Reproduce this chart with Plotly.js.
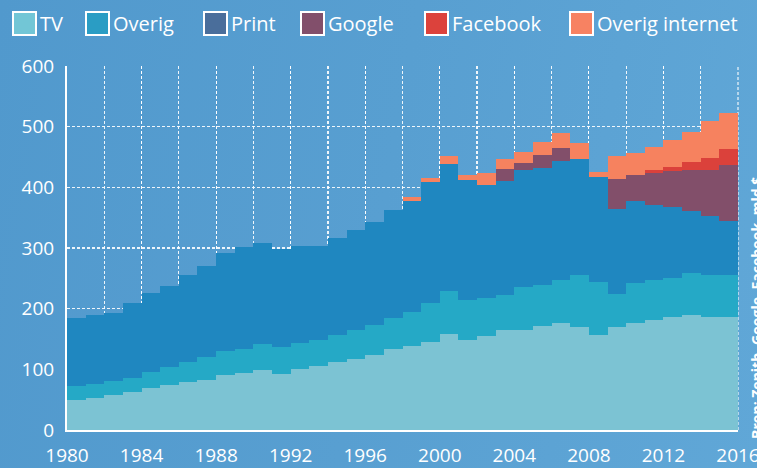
<!DOCTYPE html>
<html>
<head>
<meta charset="utf-8">
<script src="https://cdn.plot.ly/plotly-3.0.1.min.js"></script>
<style>
  html, body { margin: 0; padding: 0; }
  body { width: 757px; height: 468px; overflow: hidden;
         background: linear-gradient(100deg, #5199cd 0%, #589fd1 50%, #60a7d7 100%); }
  #chart { width: 757px; height: 468px; }
</style>
</head>
<body>
<div id="chart"></div>
<script>
// ---- data (billions) ----
const years = [1980,1981,1982,1983,1984,1985,1986,1987,1988,1989,1990,1991,1992,1993,1994,1995,1996,1997,
               1998,1999,2000,2001,2002,2003,2004,2005,2006,2007,2008,2009,2010,2011,2012,2013,2014,2015];
const tv = [50,53,57,63,70,74,79,83,90,94,99,93,101,105,112,117,124,133,
            138,145,158,149,155,165,165,171,176,170,157,169,177,182,186,189,186,186];
const overig = [22,23,23,23,26,30,33,37,40,39,42,43,43,43,45,48,49,52,
                56,65,71,66,63,58,71,68,72,86,87,55,65,65,65,69,69,69];
const print = [112,113,113,124,130,134,144,150,161,169,168,163,160,156,159,165,170,178,
               183,199,210,197,186,187,193,193,195,191,173,140,135,124,116,103,98,89];
const google = [0,0,0,0,0,0,0,0,0,0,0,0,0,0,0,0,0,0,
                0,0,0,0,0,21,11,22,22,0,0,50,44,53,60,68,76,93];
const facebook = [0,0,0,0,0,0,0,0,0,0,0,0,0,0,0,0,0,0,
                  0,0,0,0,0,0,0,0,0,0,0,0,0,5,7,12,19,26];
const overigInternet = [0,0,0,0,0,0,0,0,0,0,0,0,0,0,0,0,0,0,
                        7,7,12,8,20,15,18,21,25,26,8,38,36,38,44,51,61,59];

const xTickLabels = [1980,1984,1988,1992,1996,2000,2004,2008,2012,2016];
const yTickLabels = [0,100,200,300,400,500,600];

const seriesNames = ["TV","Overig","Print","Google","Facebook","Overig internet"];
const seriesData = [tv, overig, print, google, facebook, overigInternet];
const fillColors = ["#7cc3d3","#25a9c6","#1f87c0","#824f6a","#db413b","#f6825f"];
const legendColors = ["#72c6d6","#2a9dc4","#4a6e9b","#824f6b","#dc423c","#f78262"];

const FONT = "'Open Sans', 'DejaVu Sans', sans-serif";

const traces = seriesNames.map((name, i) => ({
  type: "bar",
  name: name,
  x: years,
  y: seriesData[i],
  width: 1,
  offset: 0,
  marker: { color: fillColors[i], line: { width: 0 } },
  showlegend: false,
  hoverinfo: "x+y+name"
}));

// plot area geometry in pixels
const W = 757, H = 468;
const M = { l: 67, r: 19, t: 66, b: 38 };
const pw = W - M.l - M.r, ph = H - M.t - M.b;
const px = x => (x - M.l) / pw;
const py = y => (H - M.b - y) / ph;

const gridCol = "rgba(255,255,255,0.9)";

// manual legend (swatch + label), matching reference layout
const legendSwatchX = [13, 86, 204, 301, 425, 570];
const shapes = [];
const annotations = [];
seriesNames.forEach((name, i) => {
  const x0 = legendSwatchX[i];
  shapes.push({
    type: "rect", xref: "paper", yref: "paper",
    x0: px(x0), x1: px(x0 + 23), y0: py(35), y1: py(12),
    fillcolor: legendColors[i], line: { color: "#ffffff", width: 2 }, layer: "above"
  });
  annotations.push({
    xref: "paper", yref: "paper", x: px(x0 + 25), y: py(23.5),
    xanchor: "left", yanchor: "middle", showarrow: false,
    text: name, font: { family: FONT, size: 20, color: "#ffffff" }
  });
});
// dashed right-edge frame line (grid at the end of the x range)
shapes.push({
  type: "line", xref: "paper", yref: "paper", x0: 1, x1: 1, y0: 0, y1: 1,
  line: { color: gridCol, width: 1.2, dash: "3px,2px" }, layer: "below"
});
// rotated source note, partly off the right edge (as in the reference)
annotations.push({
  xref: "paper", yref: "paper", x: px(757), y: py(441),
  xanchor: "center", yanchor: "bottom", showarrow: false, textangle: -90,
  text: "<b>Bron: Zenith, Google, Facebook, mld $</b>",
  font: { family: FONT, size: 14, color: "#ffffff" }
});

const layout = {
  width: W, height: H,
  margin: { l: M.l, r: M.r, t: M.t, b: M.b, pad: 0, autoexpand: false },
  paper_bgcolor: "rgba(0,0,0,0)",
  plot_bgcolor: "rgba(0,0,0,0)",
  barmode: "stack",
  bargap: 0,
  showlegend: false,
  font: { family: FONT, color: "#ffffff" },
  xaxis: {
    range: [1980, 2016], tickmode: "array", tickvals: xTickLabels, ticktext: xTickLabels.map(String),
    ticks: "",
    ticklabeloverflow: "allow",
    showgrid: true, gridcolor: gridCol, gridwidth: 1.2, griddash: "3px,2px",
    minor: { dtick: 2, tick0: 1980, showgrid: true, gridcolor: gridCol, gridwidth: 1.2, griddash: "3px,2px" },
    showline: true, linecolor: "#ffffff", linewidth: 2, zeroline: false,
    tickfont: { family: FONT, size: 19, color: "#ffffff" },
    ticklabelstandoff: 7,
    fixedrange: true
  },
  yaxis: {
    range: [0, 600], tickmode: "array", tickvals: yTickLabels, ticktext: yTickLabels.map(String),
    ticks: "",
    ticklabeloverflow: "allow",
    showgrid: true, gridcolor: gridCol, gridwidth: 1.2, griddash: "3px,2px",
    showline: true, linecolor: "#ffffff", linewidth: 2, zeroline: false,
    tickfont: { family: FONT, size: 19, color: "#ffffff" },
    ticklabelstandoff: 7,
    fixedrange: true
  },
  shapes: shapes,
  annotations: annotations
};

Plotly.newPlot("chart", traces, layout, { displayModeBar: false, staticPlot: true });
</script>
</body>
</html>
